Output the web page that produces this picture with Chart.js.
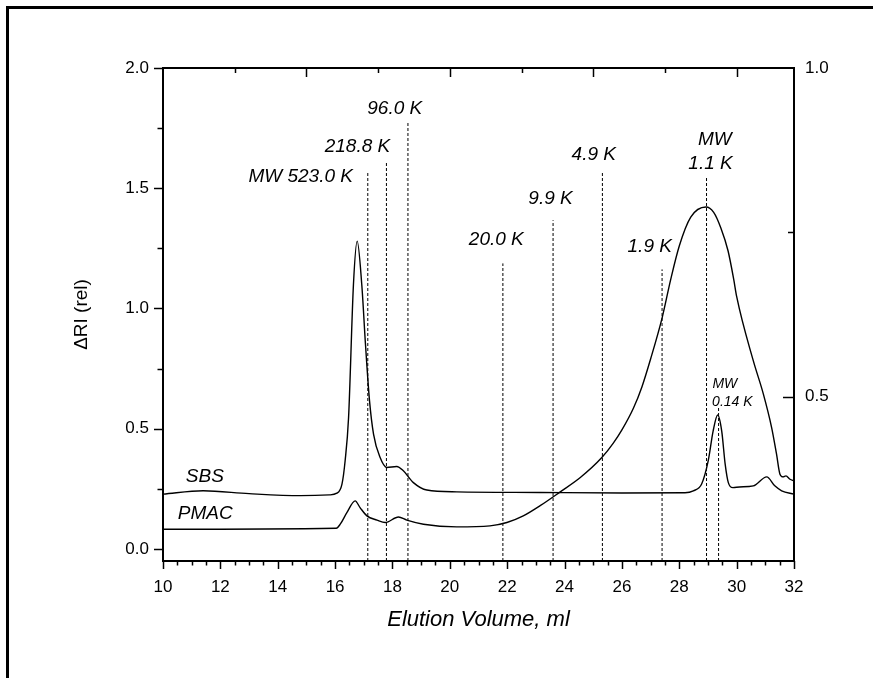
<!DOCTYPE html>
<html>
<head>
<meta charset="utf-8">
<script src="https://cdn.jsdelivr.net/npm/chart.js@4/dist/chart.umd.min.js"></script>
<style>
  html, body { margin: 0; padding: 0; background: #fff; }
  #wrap { width: 873px; height: 678px; }
</style>
</head>
<body>
<div id="wrap"><canvas id="chart" width="873" height="678"></canvas></div>
<script>
// elution volume (ml) / delta RI (rel)
const sbsX = [10, 11.4, 13.0, 14.8, 15.8, 16.06, 16.24, 16.35, 16.47, 16.64, 16.77, 16.93, 17.06, 17.2, 17.34, 17.57, 17.8, 18.15, 18.38, 18.73, 19.2, 20.24, 23.15, 26.0, 28.2, 28.49, 28.78, 29.01, 29.18, 29.34, 29.48, 29.6, 29.71, 29.87, 30.1, 30.58, 31.05, 31.33, 31.57, 32.0];
const sbsY = [0.228, 0.242, 0.23, 0.222, 0.225, 0.232, 0.27, 0.367, 0.547, 1.10, 1.28, 1.10, 0.85, 0.617, 0.478, 0.38, 0.339, 0.343, 0.325, 0.276, 0.245, 0.2375, 0.235, 0.233, 0.234, 0.242, 0.27, 0.367, 0.49, 0.557, 0.49, 0.353, 0.276, 0.255, 0.258, 0.2625, 0.30, 0.2625, 0.242, 0.228];

const pmacX = [10, 16.04, 16.18, 16.41, 16.7, 16.87, 17.11, 17.46, 17.75, 18.21, 18.5, 19.08, 20.24, 21.4, 21.99, 22.56, 23.15, 23.85, 24.55, 25.3, 25.7, 26.0, 26.4, 26.7, 27.0, 27.4, 27.7, 28.0, 28.4, 28.93, 29.2, 29.45, 29.7, 29.9, 30.0, 30.58, 30.93, 31.22, 31.39, 31.51, 31.62, 31.72, 31.86, 32.0];
const pmacY = [0.082, 0.086, 0.103, 0.151, 0.20, 0.172, 0.1375, 0.12, 0.11, 0.133, 0.12, 0.103, 0.092, 0.096, 0.11, 0.1375, 0.18, 0.2375, 0.297, 0.38, 0.44, 0.495, 0.585, 0.675, 0.79, 0.96, 1.12, 1.26, 1.38, 1.422, 1.40, 1.335, 1.24, 1.12, 1.05, 0.783, 0.645, 0.505, 0.395, 0.311, 0.30, 0.304, 0.29, 0.283];

// calibration markers: position and height of each dashed line
const mwX   = [17.14, 17.79, 18.54, 21.85, 23.6, 25.32, 27.4, 28.95, 29.37];
const mwTop = [1.568, 1.6125, 1.779, 1.1875, 1.367, 1.564, 1.1625, 1.547, 0.589];

// marker captions (text, x, y in data units)
const mwText = ["MW 523.0 K", "218.8 K", "96.0 K", "20.0 K", "9.9 K", "4.9 K", "1.9 K", "MW", "1.1 K"];
const mwTextX = [14.80, 16.78, 18.08, 21.62, 23.51, 25.02, 26.97, 29.24, 29.09];
const mwTextY = [1.55, 1.672, 1.829, 1.2875, 1.455, 1.6375, 1.255, 1.703, 1.60];
const smallText = ["MW", "0.14 K"];
const smallTextX = [29.59, 29.85];
const smallTextY = [0.686, 0.61];
const seriesNames = ["SBS", "PMAC"];
const seriesNameX = [11.46, 11.47];
const seriesNameY = [0.30, 0.146];

const xTicks = [10, 12, 14, 16, 18, 20, 22, 24, 26, 28, 30, 32];
const yTicks = [0, 0.5, 1.0, 1.5, 2.0];
const y2Ticks = [0.5, 1.0];

const FONT = "'Liberation Sans', Arial, sans-serif";
const Y_MIN = -0.05;

function pts(xs, ys) {
  return xs.map((x, i) => ({ x, y: ys[i] }));
}

const datasets = [
  { data: pts(sbsX, sbsY), borderColor: "#000", borderWidth: 1.4, cubicInterpolationMode: "monotone" },
  { data: pts(pmacX, pmacY), borderColor: "#000", borderWidth: 1.4, cubicInterpolationMode: "monotone" },
];
mwX.forEach((x, i) => {
  datasets.push({
    data: [{ x, y: Y_MIN }, { x, y: mwTop[i] }],
    borderColor: "#000",
    borderWidth: 1,
    borderDash: [3, 2],
  });
});

// frame, axis box and tick marks (major + minor) through the chart scales
const axesPlugin = {
  id: "axesPlugin",
  beforeDraw(chart) {
    const { ctx, width, height } = chart;
    ctx.save();
    ctx.fillStyle = "#fff";
    ctx.fillRect(0, 0, width, height);
    ctx.fillStyle = "#000";
    ctx.fillRect(6, 6, width - 6, 3);
    ctx.fillRect(6, 6, 3, height - 6);
    ctx.restore();
  },
  afterDraw(chart) {
    const { ctx, chartArea: a, scales } = chart;
    const { x, y, y2 } = scales;
    const line = (x1, y1, x2, y2_) => {
      ctx.beginPath();
      ctx.moveTo(x1, y1);
      ctx.lineTo(x2, y2_);
      ctx.stroke();
    };
    ctx.save();
    ctx.strokeStyle = "#000";
    ctx.lineWidth = 2;
    ctx.strokeRect(a.left, a.top, a.right - a.left, a.bottom - a.top);
    ctx.lineWidth = 1.5;
    // bottom: every 0.5, long at labelled values
    for (let v = 10; v <= 32.001; v += 0.5) {
      const px = Math.round(x.getPixelForValue(v)) + 0.5;
      const major = Math.abs(v / 2 - Math.round(v / 2)) < 1e-6;
      line(px, a.bottom, px, a.bottom + (major ? 8 : 4.5));
    }
    // top: inward every 2.5
    for (let v = 12.5; v < 32; v += 2.5) {
      const px = Math.round(x.getPixelForValue(v)) + 0.5;
      const major = Math.abs(v / 5 - Math.round(v / 5)) < 1e-6;
      line(px, a.top, px, a.top + (major ? 9 : 5));
    }
    // left: outward every 0.25
    for (let v = 0; v <= 2.001; v += 0.25) {
      const py = Math.round(y.getPixelForValue(v)) + 0.5;
      const major = Math.abs(v / 0.5 - Math.round(v / 0.5)) < 1e-6;
      line(a.left, py, a.left - (major ? 9 : 5.5), py);
    }
    // right: inward at 0.5 and 0.75
    [0.5, 0.75].forEach((v) => {
      const py = Math.round(y2.getPixelForValue(v)) + 0.5;
      line(a.right, py, a.right - (v === 0.5 ? 11 : 6), py);
    });
    ctx.restore();
  },
};

const labelsPlugin = {
  id: "labelsPlugin",
  afterDatasetsDraw(chart) {
    const { ctx, scales: { x, y } } = chart;
    ctx.save();
    ctx.fillStyle = "#000";
    ctx.textAlign = "center";
    ctx.textBaseline = "middle";
    ctx.font = "italic 19px " + FONT;
    mwText.forEach((t, i) => ctx.fillText(t, x.getPixelForValue(mwTextX[i]), y.getPixelForValue(mwTextY[i])));
    seriesNames.forEach((t, i) => ctx.fillText(t, x.getPixelForValue(seriesNameX[i]), y.getPixelForValue(seriesNameY[i])));
    ctx.font = "italic 14px " + FONT;
    smallText.forEach((t, i) => ctx.fillText(t, x.getPixelForValue(smallTextX[i]), y.getPixelForValue(smallTextY[i])));
    ctx.restore();
  },
};

const tickFont = { family: FONT, size: 17 };

new Chart(document.getElementById("chart"), {
  type: "line",
  data: { datasets },
  options: {
    responsive: false,
    animation: false,
    devicePixelRatio: 1,
    layout: { padding: { top: 68, left: 0, right: 0, bottom: 0 } },
    plugins: { legend: { display: false }, tooltip: { enabled: false } },
    elements: { point: { radius: 0 }, line: { tension: 0 } },
    scales: {
      x: {
        type: "linear",
        min: 10,
        max: 32,
        grid: { display: false, drawTicks: false },
        border: { display: false },
        afterBuildTicks: (s) => { s.ticks = xTicks.map((v) => ({ value: v })); },
        afterFit: (s) => { s.height = 678 - 561; },
        ticks: { font: tickFont, color: "#000", padding: 16, maxRotation: 0, autoSkip: false, callback: (v) => String(v) },
        title: {
          display: true,
          text: "Elution Volume, ml",
          color: "#000",
          font: { family: FONT, size: 22, style: "italic" },
          padding: { top: 0, bottom: 45 },
        },
      },
      y: {
        position: "left",
        min: Y_MIN,
        max: 2.0,
        grid: { display: false, drawTicks: false },
        border: { display: false },
        afterBuildTicks: (s) => { s.ticks = yTicks.map((v) => ({ value: v })); },
        afterFit: (s) => { s.width = 163; },
        ticks: { font: tickFont, color: "#000", padding: 14, callback: (v) => v.toFixed(1) },
        title: {
          display: true,
          text: "ΔRI (rel)",
          color: "#000",
          font: { family: FONT, size: 19 },
          padding: { top: 70, bottom: 0 },
        },
      },
      y2: {
        position: "right",
        min: 0.25,
        max: 1.0,
        grid: { display: false, drawTicks: false },
        border: { display: false },
        afterBuildTicks: (s) => { s.ticks = y2Ticks.map((v) => ({ value: v })); },
        afterFit: (s) => { s.width = 873 - 794; },
        ticks: { font: tickFont, color: "#000", padding: 11, callback: (v) => v.toFixed(1) },
      },
    },
  },
  plugins: [axesPlugin, labelsPlugin],
});
</script>
</body>
</html>
